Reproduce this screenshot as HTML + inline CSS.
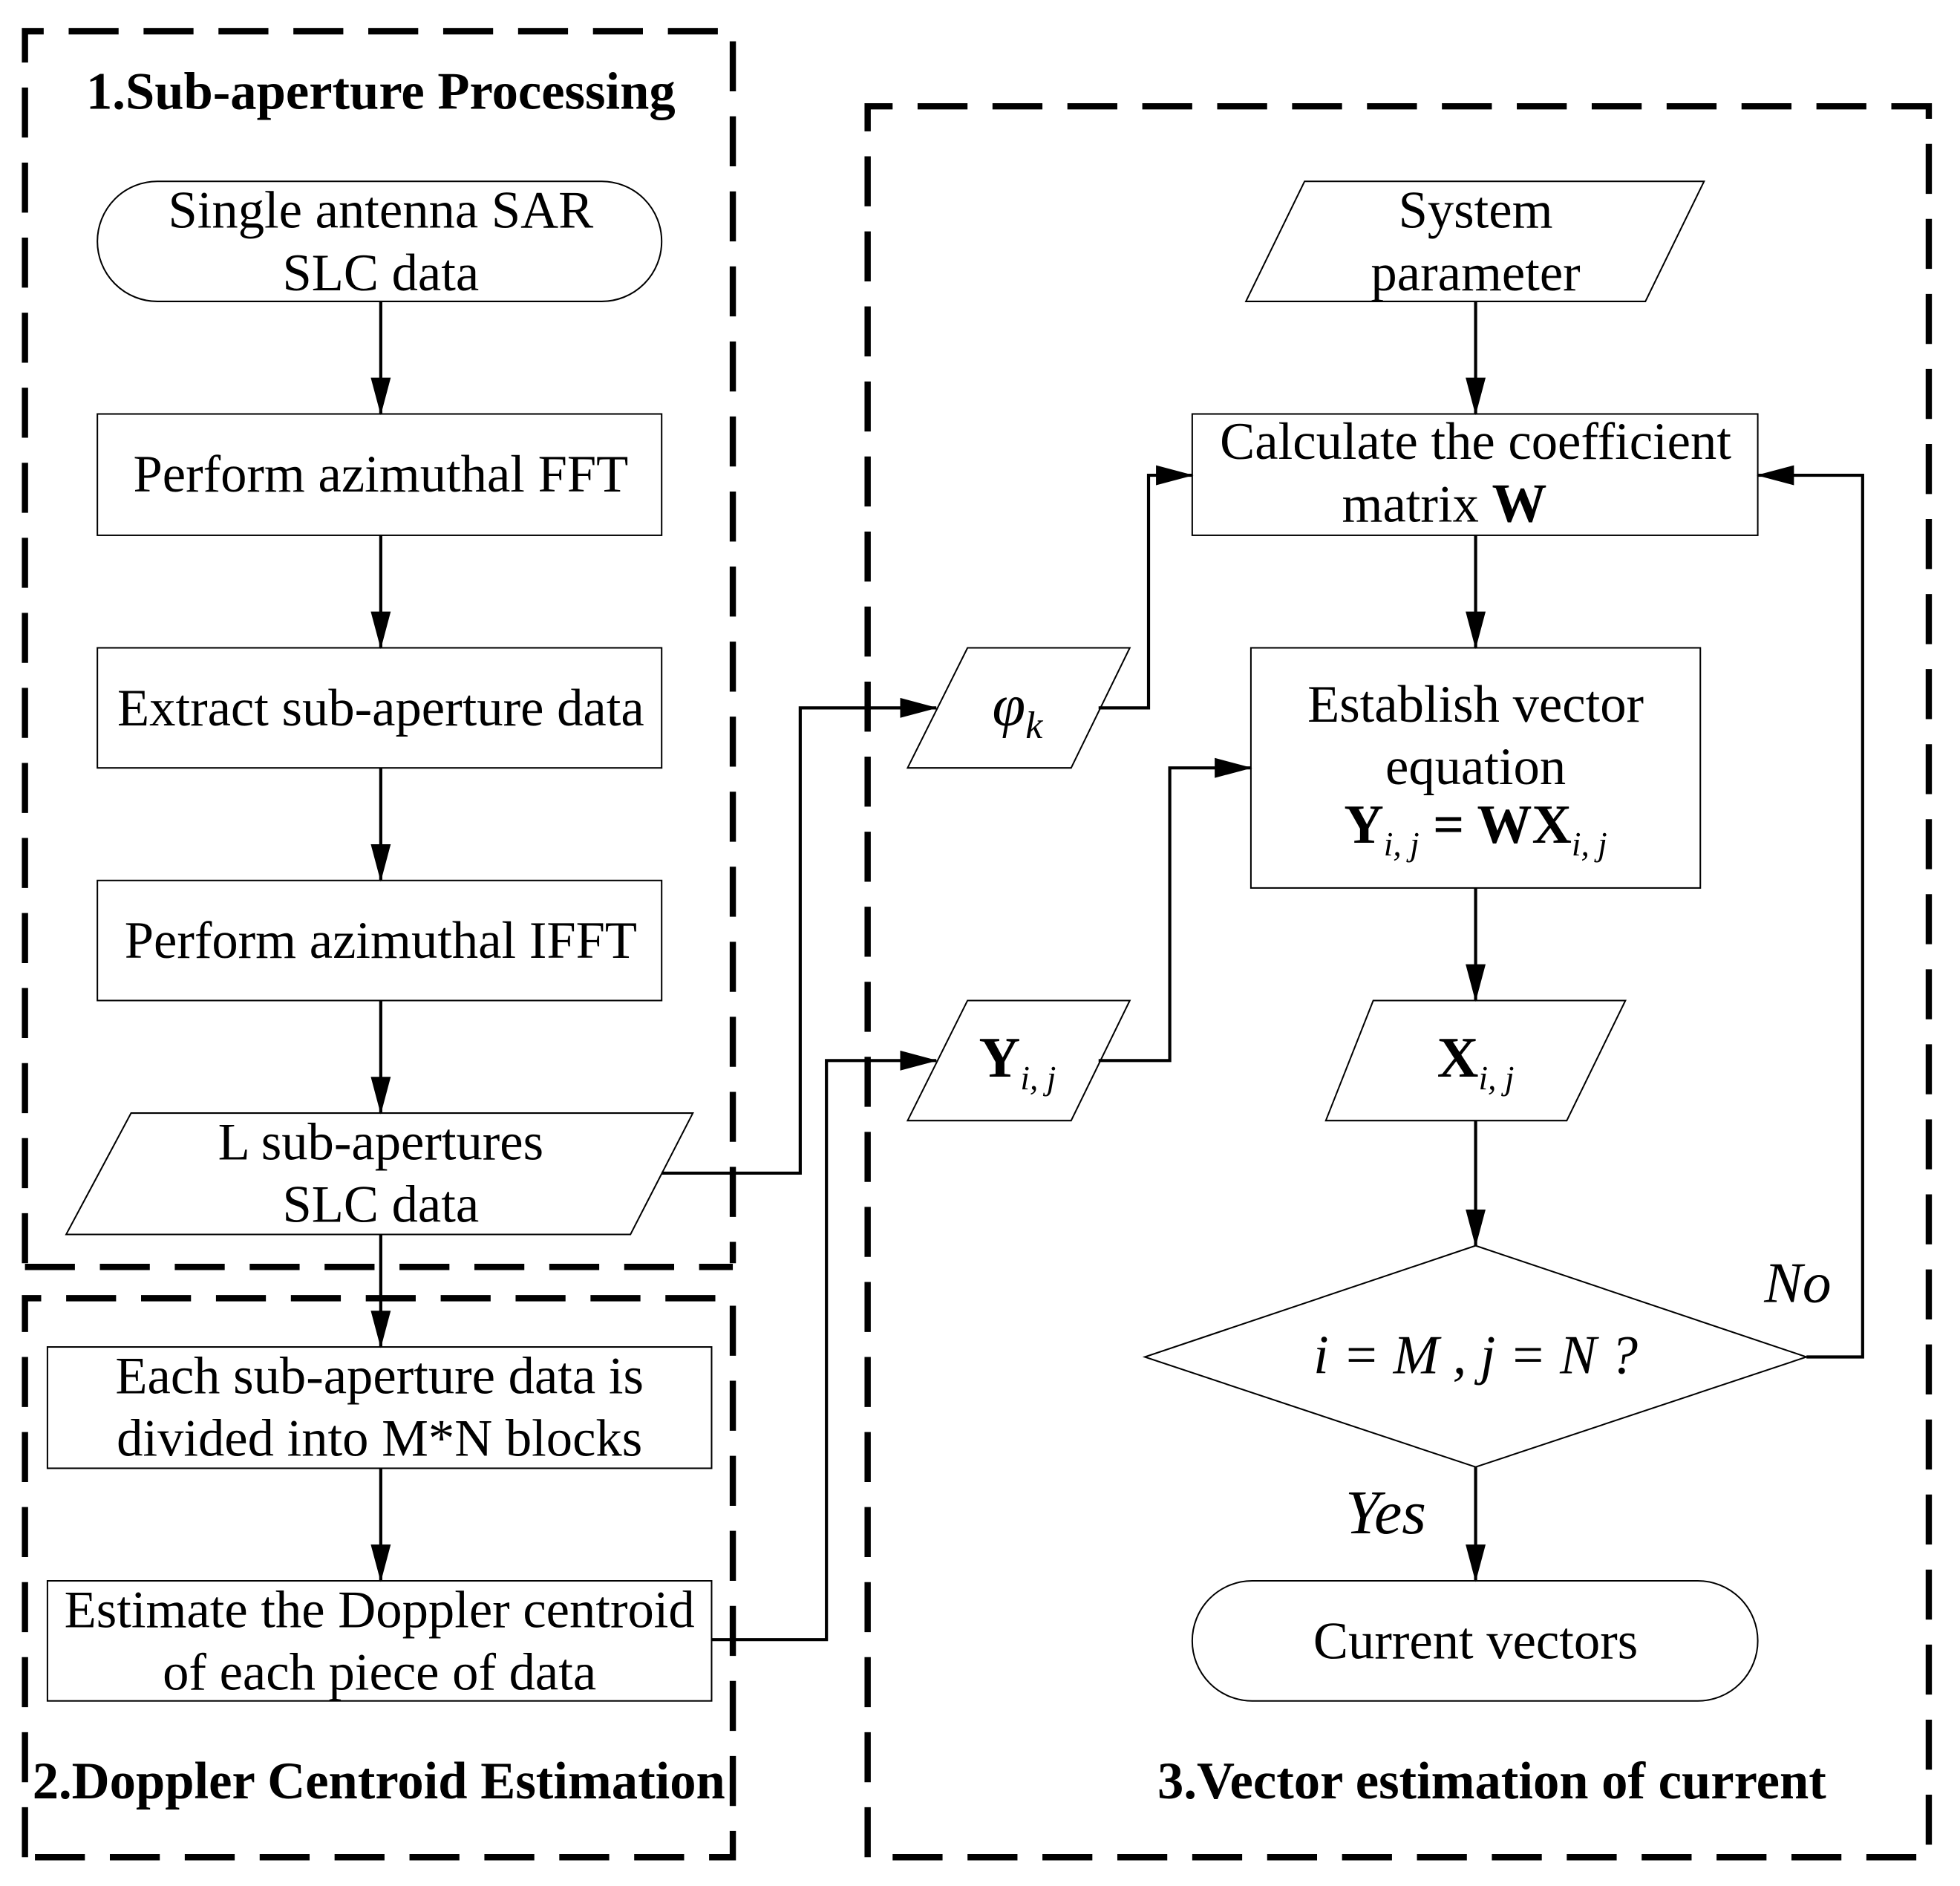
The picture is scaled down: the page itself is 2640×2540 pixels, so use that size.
<!DOCTYPE html>
<html><head><meta charset="utf-8"><style>html,body{margin:0;padding:0;background:#fff}svg{display:block}text{font-family:"Liberation Serif",serif}</style></head>
<body>
<svg width="2640" height="2540" viewBox="0 0 1570 1508" preserveAspectRatio="none" xmlns="http://www.w3.org/2000/svg">
<defs>
<marker id="a" markerWidth="30" markerHeight="16" refX="29" refY="8" orient="auto" markerUnits="userSpaceOnUse" viewBox="0 0 30 16">
<path d="M0,0 L30,8 L0,16 Z" fill="#000"/></marker>
<marker id="d" markerWidth="16" markerHeight="30" refX="8" refY="29" orient="0" markerUnits="userSpaceOnUse" viewBox="0 0 16 30">
<path d="M0,0 L16,0 L8,30 Z" fill="#000"/></marker>
</defs>
<g fill="none" stroke="#000" stroke-width="5" stroke-dasharray="40 20">
<path d="M20,1010 V25 H587 V1010"/>
<path d="M20,1013 H587"/>
<path d="M20,1485 V1038 H587 V1485 H20"/>
<path d="M695,1485 V85 H1545 V1485 H695"/>
</g>
<g fill="#fff" stroke="#000" stroke-width="1.2">
<rect x="78" y="145" width="452" height="96" rx="48"/>
<rect x="78" y="331" width="452" height="97"/>
<rect x="78" y="518" width="452" height="96"/>
<rect x="78" y="704" width="452" height="96"/>
<polygon points="105,890 555,890 505,987 53,987"/>
<rect x="38" y="1077" width="532" height="97"/>
<rect x="38" y="1264" width="532" height="96"/>
<polygon points="775,518 905,518 858,614 727,614"/>
<polygon points="775,800 905,800 858,896 727,896"/>
<polygon points="1045,145 1365,145 1318,241 998,241"/>
<rect x="955" y="331" width="453" height="97"/>
<rect x="1002" y="518" width="360" height="192"/>
<polygon points="1100,800 1302,800 1255,896 1062,896"/>
<polygon points="1182,996 1447,1085 1182,1173 917,1085"/>
<rect x="955" y="1264" width="453" height="96" rx="48"/>
</g>
<g fill="none" stroke="#000" stroke-width="2.5">
<path d="M305,241 V331" marker-end="url(#d)"/>
<path d="M305,428 V518" marker-end="url(#d)"/>
<path d="M305,614 V704" marker-end="url(#d)"/>
<path d="M305,800 V890" marker-end="url(#d)"/>
<path d="M305,987 V1077" marker-end="url(#d)"/>
<path d="M305,1174 V1264" marker-end="url(#d)"/>
<path d="M530,938 H641 V566 H750" marker-end="url(#a)"/>
<path d="M570,1311 H662 V848 H750" marker-end="url(#a)"/>
<path d="M880,566 H920 V380 H955" marker-end="url(#a)"/>
<path d="M880,848 H937 V614 H1002" marker-end="url(#a)"/>
<path d="M1182,241 V331" marker-end="url(#d)"/>
<path d="M1182,428 V518" marker-end="url(#d)"/>
<path d="M1182,710 V800" marker-end="url(#d)"/>
<path d="M1182,896 V996" marker-end="url(#d)"/>
<path d="M1182,1173 V1264" marker-end="url(#d)"/>
<path d="M1447,1085 H1492 V380 H1408" marker-end="url(#a)"/>
</g>
<g font-size="42" text-anchor="middle" fill="#000">
<text x="305" y="87" font-weight="bold" font-size="42">1.Sub-aperture Processing</text>
<text x="305" y="182">Single antenna SAR</text>
<text x="305" y="232">SLC data</text>
<text x="305" y="393">Perform azimuthal FFT</text>
<text x="305" y="580">Extract sub-aperture data</text>
<text x="305" y="766">Perform azimuthal IFFT</text>
<text x="305" y="927">L sub-apertures</text>
<text x="305" y="977">SLC data</text>
<text x="304" y="1114">Each sub-aperture data is</text>
<text x="304" y="1164">divided into M*N blocks</text>
<text x="304" y="1301">Estimate the Doppler centroid</text>
<text x="304" y="1351">of each piece of data</text>
<text x="26" y="1438" text-anchor="start" font-weight="bold" font-size="42">2.Doppler Centroid Estimation</text>
<text x="1195" y="1438" font-weight="bold" font-size="42">3.Vector estimation of current</text>
<text x="1182" y="182">System</text>
<text x="1182" y="232">parameter</text>
<text x="1182" y="367">Calculate the coefficient</text>
<text x="1157" y="417">matrix <tspan font-weight="bold" font-size="44">W</tspan></text>
<text x="1182" y="577">Establish vector</text>
<text x="1182" y="627">equation</text>
<text x="1182" y="674" font-weight="bold" font-size="44">Y<tspan font-weight="normal" font-style="italic" font-size="27" dy="10">i, j</tspan><tspan dy="-10"> = WX</tspan><tspan font-weight="normal" font-style="italic" font-size="27" dy="10">i, j</tspan></text>
<text x="815" y="580" font-style="italic" font-size="48">φ<tspan font-size="31" dy="10">k</tspan></text>
<text x="815" y="861" font-weight="bold" font-size="46">Y<tspan font-weight="normal" font-style="italic" font-size="27" dy="10">i, j</tspan></text>
<text x="1182" y="861" font-weight="bold" font-size="46">X<tspan font-weight="normal" font-style="italic" font-size="27" dy="10">i, j</tspan></text>
<text x="1182" y="1098" font-style="italic" font-size="44">i = M , j = N ?</text>
<text x="1440" y="1041" font-style="italic" font-size="46">No</text>
<text x="1110" y="1226" font-style="italic" font-size="50">Yes</text>
<text x="1182" y="1326">Current vectors</text>
</g>
</svg>
</body></html>
